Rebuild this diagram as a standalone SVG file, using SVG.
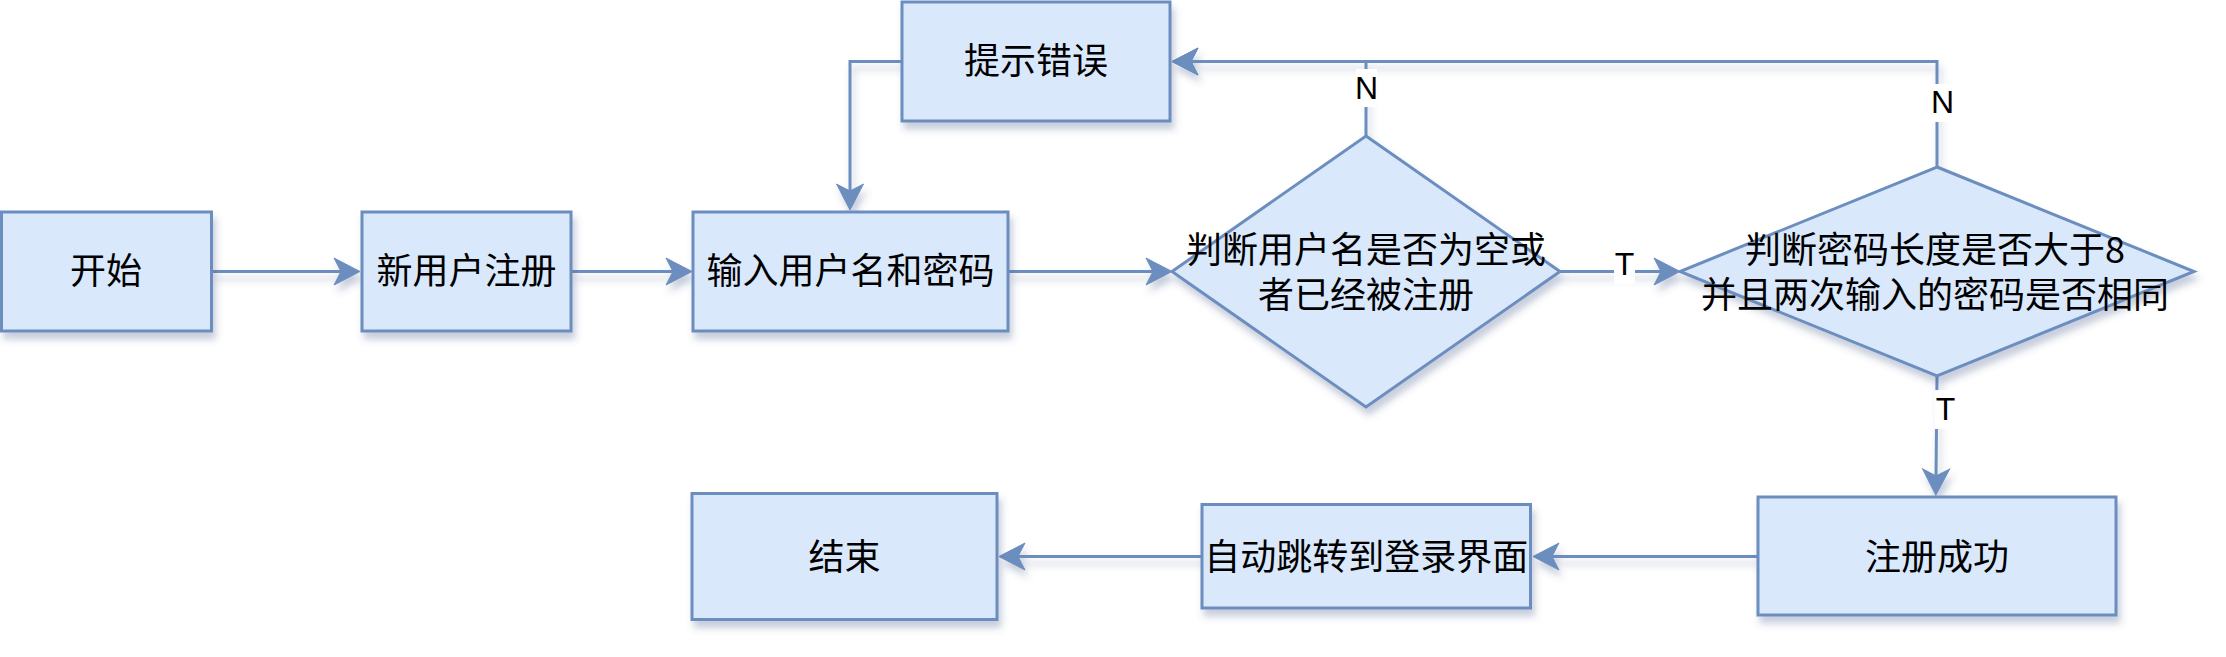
<svg xmlns="http://www.w3.org/2000/svg" width="2226" height="657" viewBox="0 0 2226 657">
<style>
.box{fill:#dae8fc;stroke:#6c8ebf;stroke-width:3}
.t{font-family:"Noto Sans CJK SC","Noto Sans",sans-serif;font-size:36px;fill:#000;text-anchor:middle}
.lbl{font-family:"Liberation Sans",Arial,sans-serif;font-size:32px;fill:#000;text-anchor:middle}
.lblbg{fill:#fff}
.edge{fill:none;stroke:#6c8ebf;stroke-width:3;marker-end:url(#arr)}
</style>
<defs>
<filter id="sh" x="-10%" y="-10%" width="130%" height="140%">
<feDropShadow dx="3" dy="7" stdDeviation="3.5" flood-color="#4a5a8a" flood-opacity="0.3"/>
</filter>
<marker id="arr" viewBox="-8 -15 28 30" markerWidth="28" markerHeight="30" refX="0" refY="0" orient="auto" markerUnits="userSpaceOnUse">
<path d="M19 0 L-7 -13.5 L0 0 L-7 13.5 Z" fill="#6c8ebf" stroke="#6c8ebf" stroke-width="1"/>
</marker>
</defs>
<rect width="2226" height="657" fill="#fff"/>
<g id="connectors" filter="url(#sh)">
<path class="edge" d="M211 271.5 H341"/>
<path class="edge" d="M571 271.5 H673"/>
<path class="edge" d="M1008 271.5 H1153"/>
<path class="edge" d="M1560 271.5 H1661"/>
<path class="edge" d="M1366 136 V61.5 H1191"/>
<path class="edge" d="M1937 167 V61.5 H1191"/>
<path class="edge" d="M902 61.5 H850 V191"/>
<path class="edge" d="M1937 376 L1936 476"/>
<path class="edge" d="M1758 556.5 H1552"/>
<path class="edge" d="M1202 556.5 H1018"/>
</g>
<g id="edge-labels">
<rect class="lblbg" x="1356" y="69" width="21" height="38"/>
<text class="lbl" x="1366.5" y="99">N</text>
<rect class="lblbg" x="1932" y="84" width="21" height="38"/>
<text class="lbl" x="1942.5" y="113">N</text>
<rect class="lblbg" x="1614" y="246" width="21" height="38"/>
<text class="lbl" x="1624.5" y="275">T</text>
<rect class="lblbg" x="1935" y="390" width="21" height="39"/>
<text class="lbl" x="1945.5" y="420">T</text>
</g>
<g id="start">
<rect class="box" filter="url(#sh)" x="1.5" y="212" width="210" height="119"/>
<text class="t" x="106" y="284">开始</text>
</g>
<g id="register">
<rect class="box" filter="url(#sh)" x="362" y="212" width="209" height="119"/>
<text class="t" x="466.5" y="284">新用户注册</text>
</g>
<g id="input">
<rect class="box" filter="url(#sh)" x="693" y="212" width="315" height="119"/>
<text class="t" x="850.5" y="284">输入用户名和密码</text>
</g>
<g id="error">
<rect class="box" filter="url(#sh)" x="902" y="2" width="268" height="119"/>
<text class="t" x="1036" y="74">提示错误</text>
</g>
<g id="check-user">
<polygon class="box" filter="url(#sh)" points="1366,136 1560,271.5 1366,407 1172,271.5"/>
<text class="t" x="1366" y="263">判断用户名是否为空或</text>
<text class="t" x="1366" y="308">者已经被注册</text>
</g>
<g id="check-pwd">
<polygon class="box" filter="url(#sh)" points="1937,167 2194,271.5 1937,376 1680,271.5"/>
<text class="t" x="1935" y="263">判断密码长度是否大于8</text>
<text class="t" x="1935" y="308">并且两次输入的密码是否相同</text>
</g>
<g id="success">
<rect class="box" filter="url(#sh)" x="1758" y="497" width="358" height="118"/>
<text class="t" x="1937" y="570">注册成功</text>
</g>
<g id="redirect">
<rect class="box" filter="url(#sh)" x="1202" y="504.5" width="328.5" height="103.5"/>
<text class="t" x="1366.25" y="570">自动跳转到登录界面</text>
</g>
<g id="end">
<rect class="box" filter="url(#sh)" x="692" y="493.5" width="305" height="126"/>
<text class="t" x="844.5" y="570">结束</text>
</g>
</svg>
